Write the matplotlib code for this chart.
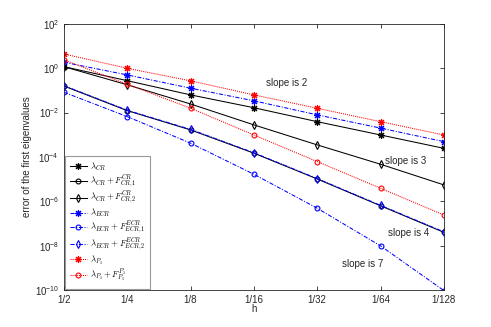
import matplotlib
matplotlib.use("Agg")
import matplotlib.pyplot as plt
from matplotlib.ticker import FixedLocator, FixedFormatter, NullLocator

plt.rcParams['font.family'] = ['Liberation Sans', 'DejaVu Sans']
plt.rcParams['mathtext.fontset'] = 'cm'

h = [1/2, 1/4, 1/8, 1/16, 1/32, 1/64, 1/128]
h_labels = ['1/2', '1/4', '1/8', '1/16', '1/32', '1/64', '1/128']

cr = [1.18, 0.275, 0.063, 0.0166, 0.0039, 0.00098, 0.000245]
cr_f1 = [0.158, 0.0123, 0.00166, 1.48e-4, 1.02e-5, 6.3e-7, 4.0e-8]
cr_f2 = [1.18, 0.18, 0.0245, 0.0028, 0.00035, 4.7e-5, 5.5e-6]
ecr = [1.86, 0.50, 0.126, 0.034, 0.0079, 0.0020, 0.00049]
ecr_f1 = [0.083, 0.0066, 4.2e-4, 1.66e-5, 4.9e-7, 9.8e-9, 9.5e-11]
ecr_f2 = [0.165, 0.0128, 0.00175, 1.55e-4, 1.06e-5, 6.6e-7, 4.2e-8]
p1 = [4.4, 1.0, 0.27, 0.063, 0.0157, 0.0039, 0.00098]
p1_f = [2.4, 0.19, 0.0158, 0.00098, 6.2e-5, 3.9e-6, 2.4e-7]

labels = [r'$\lambda_{CR}$', r'$\lambda_{CR}+F_{CR,1}^{CR}$', r'$\lambda_{CR}+F_{CR,2}^{CR}$',
          r'$\lambda_{ECR}$', r'$\lambda_{ECR}+F_{ECR,1}^{ECR}$', r'$\lambda_{ECR}+F_{ECR,2}^{ECR}$',
          r'$\lambda_{P_1}$', r'$\lambda_{P_1}+F_{P_1}^{P_1}$']

fig = plt.figure(figsize=(4.91, 3.27), dpi=100)
ax = fig.add_axes([0.130, 0.113, 0.774, 0.814])

star = (8, 2, 0)
solid = '-'
dashdot = (0, (4, 1.5, 1, 1.5))
dotted = (0, (1, 1))
mk = dict(markerfacecolor='none', linewidth=0.75, markeredgewidth=0.8)
ax.plot(h, cr, color='k', ls=solid, marker=star, ms=5, label=labels[0], **mk)
ax.plot(h, cr_f1, color='k', ls=solid, marker='o', ms=3.5, label=labels[1], **mk)
ax.plot(h, cr_f2, color='k', ls=solid, marker='d', ms=3.8, label=labels[2], **mk)
ax.plot(h, ecr, color='b', ls=dashdot, marker=star, ms=5, label=labels[3], **mk)
ax.plot(h, ecr_f1, color='b', ls=dashdot, marker='o', ms=3.5, label=labels[4], **mk)
ax.plot(h, ecr_f2, color='b', ls=dashdot, marker='d', ms=3.8, label=labels[5], **mk)
ax.plot(h, p1, color='r', ls=dotted, marker=star, ms=5, label=labels[6], **mk)
ax.plot(h, p1_f, color='r', ls=dotted, marker='o', ms=3.5, label=labels[7], **mk)

ax.set_xscale('log', base=2)
ax.set_yscale('log')
ax.set_xlim(1/2, 1/128)
ax.set_ylim(1e-10, 1e2)
ax.xaxis.set_major_locator(FixedLocator(h))
ax.xaxis.set_major_formatter(FixedFormatter(h_labels))
ax.xaxis.set_minor_locator(NullLocator())
ax.yaxis.set_major_locator(FixedLocator([1e-10, 1e-8, 1e-6, 1e-4, 1e-2, 1e0, 1e2]))
ax.yaxis.set_minor_locator(NullLocator())
ax.tick_params(direction='in', top=True, right=True, labelsize=7, colors='#262626',
               length=3, width=0.6)
for s in ax.spines.values():
    s.set_color('#262626')
    s.set_linewidth(0.6)

ax.set_xlabel('h', fontsize=7, color='#262626', labelpad=-1)
ax.set_ylabel('error of the first eigenvalues', fontsize=7, color='#262626', labelpad=2)

tk = dict(fontsize=7, color='#262626', va='center', ha='left')
ax.text(2**-4.19, 10**-0.66, 'slope is 2', **tk)
ax.text(2**-6.07, 10**-4.18, 'slope is 3', **tk)
ax.text(2**-6.12, 10**-7.43, 'slope is 4', **tk)
ax.text(2**-5.39, 10**-8.83, 'slope is 7', **tk)

leg = ax.legend(loc='lower left', fontsize=6.3, fancybox=False, edgecolor='#999999',
                framealpha=1, handlelength=2.0, handletextpad=0.3, labelspacing=0.05,
                borderaxespad=0.15, borderpad=0.5)
leg.get_frame().set_linewidth(0.8)

fig.savefig('out.png', dpi=100)
